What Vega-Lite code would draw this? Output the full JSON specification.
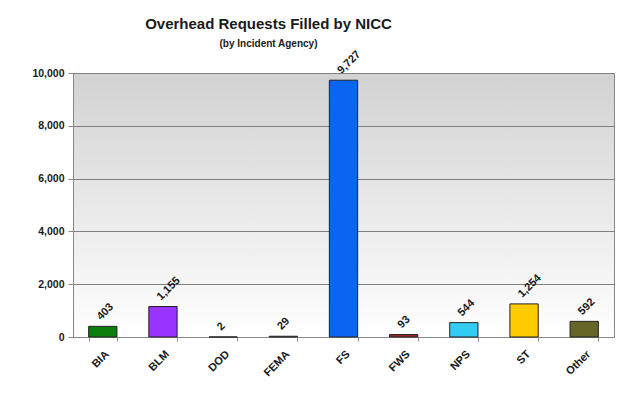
{
  "$schema": "https://vega.github.io/schema/vega-lite/v6.json",
  "autosize": "none",
  "width": 541,
  "height": 264,
  "padding": {"left": 73, "top": 73, "right": 7, "bottom": 61},
  "background": "white",
  "title": {
    "text": "Overhead Requests Filled by NICC",
    "subtitle": "(by Incident Agency)",
    "anchor": "middle",
    "dx": -75,
    "offset": 0,
    "font": "Liberation Sans",
    "fontSize": 15,
    "fontWeight": "bold",
    "color": "#1a1a1a",
    "subtitleFont": "Liberation Sans",
    "subtitleFontSize": 10,
    "subtitleFontWeight": "bold",
    "subtitleColor": "#1a1a1a",
    "subtitlePadding": 7
  },
  "data": {
    "values": [
      {"agency": "BIA", "requests": 403},
      {"agency": "BLM", "requests": 1155},
      {"agency": "DOD", "requests": 2},
      {"agency": "FEMA", "requests": 29},
      {"agency": "FS", "requests": 9727},
      {"agency": "FWS", "requests": 93},
      {"agency": "NPS", "requests": 544},
      {"agency": "ST", "requests": 1254},
      {"agency": "Other", "requests": 592}
    ]
  },
  "encoding": {
    "x": {
      "field": "agency",
      "type": "nominal",
      "sort": null,
      "scale": {"paddingInner": 0.53, "paddingOuter": 0.26},
      "axis": {
        "title": null,
        "labelAngle": -45,
        "labelFont": "Liberation Sans",
        "labelFontSize": 11,
        "labelFontWeight": "bold",
        "labelColor": "#1a1a1a",
        "labelPadding": 7,
        "tickBand": "extent",
        "tickColor": "#888888",
        "tickSize": 4,
        "domainColor": "#888888"
      }
    },
    "y": {
      "field": "requests",
      "type": "quantitative",
      "scale": {"domain": [0, 10000], "nice": false},
      "axis": {
        "title": null,
        "values": [0, 2000, 4000, 6000, 8000, 10000],
        "format": ",d",
        "labelFont": "Liberation Sans",
        "labelFontSize": 10.5,
        "labelFontWeight": "bold",
        "labelColor": "#1a1a1a",
        "labelPadding": 4,
        "tickColor": "#888888",
        "tickSize": 5,
        "domainColor": "#888888",
        "gridColor": "#808080",
        "gridWidth": 1.2
      }
    }
  },
  "layer": [
    {
      "mark": {"type": "bar", "stroke": "#222222", "strokeWidth": 1},
      "encoding": {
        "color": {
          "field": "agency",
          "type": "nominal",
          "legend": null,
          "scale": {
            "domain": ["BIA", "BLM", "DOD", "FEMA", "FS", "FWS", "NPS", "ST", "Other"],
            "range": ["#0a7d0a", "#9933ff", "#8a8a8a", "#7a7a5a", "#0a66f0", "#a02828", "#33ccf5", "#ffcc00", "#666628"]
          }
        }
      }
    },
    {
      "mark": {
        "type": "text",
        "angle": -45,
        "align": "left",
        "baseline": "middle",
        "xOffset": -4,
        "yOffset": -8,
        "font": "Liberation Sans",
        "fontSize": 11,
        "fontWeight": "bold",
        "color": "#1a1a1a"
      },
      "encoding": {
        "text": {"field": "requests", "type": "quantitative", "format": ",d"}
      }
    }
  ],
  "config": {
    "view": {
      "stroke": "#888888",
      "fill": {
        "gradient": "linear",
        "x1": 0, "y1": 0, "x2": 0, "y2": 1,
        "stops": [
          {"offset": 0, "color": "#d2d2d2"},
          {"offset": 1, "color": "#ffffff"}
        ]
      }
    }
  }
}
